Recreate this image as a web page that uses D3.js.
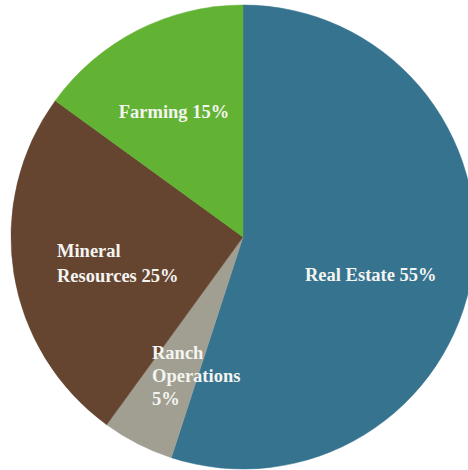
<!DOCTYPE html>
<html><head><meta charset="utf-8">
<script src="https://cdn.jsdelivr.net/npm/d3@7"></script>
<style>html,body{margin:0;padding:0;background:#fff;overflow:hidden}</style>
</head><body>
<script>
const categories = ["Real Estate", "Ranch Operations", "Mineral Resources", "Farming"];
const values = [55, 5, 25, 15];
const colors = ["#35738f", "#a19f92", "#654430", "#62b233"];
const labelLines = [["Real Estate 55%"], ["Ranch", "Operations", "5%"], ["Mineral", "Resources 25%"], ["Farming 15%"]];

const W = 468, H = 470, cx = 243, cy = 237, R = 232;
const svg = d3.select("body").append("svg").attr("width", W).attr("height", H);
const g = svg.append("g").attr("transform", `translate(${cx},${cy})`);
const pie = d3.pie().sort(null).value(d => d)(values);
const arc = d3.arc().innerRadius(0).outerRadius(R);
g.selectAll("path").data(pie).join("path")
  .attr("d", arc).attr("fill", (d, i) => colors[i])
  .attr("stroke", (d, i) => colors[i]).attr("stroke-width", 0.5);

const labelPos = [
  {x: 305 - cx, y: 281 - cy, anchor: "start"},
  {x: 152 - cx, y: 359 - cy, anchor: "start"},
  {x: 57 - cx, y: 257 - cy, anchor: "start"},
  {x: 174 - cx, y: 118 - cy, anchor: "middle"}
];
labelLines.forEach((lines, i) => {
  const t = g.append("text").attr("x", labelPos[i].x).attr("y", labelPos[i].y)
    .attr("text-anchor", labelPos[i].anchor)
    .attr("font-family", "'Liberation Serif', 'Times New Roman', serif")
    .attr("font-weight", "bold").attr("font-size", 18.5).attr("fill", "#f4f4f0");
  lines.forEach((l, j) => {
    t.append("tspan").attr("x", labelPos[i].x).attr("dy", j === 0 ? 0 : (i === 1 ? 23 : 25)).text(l);
  });
});
</script>
</body></html>
